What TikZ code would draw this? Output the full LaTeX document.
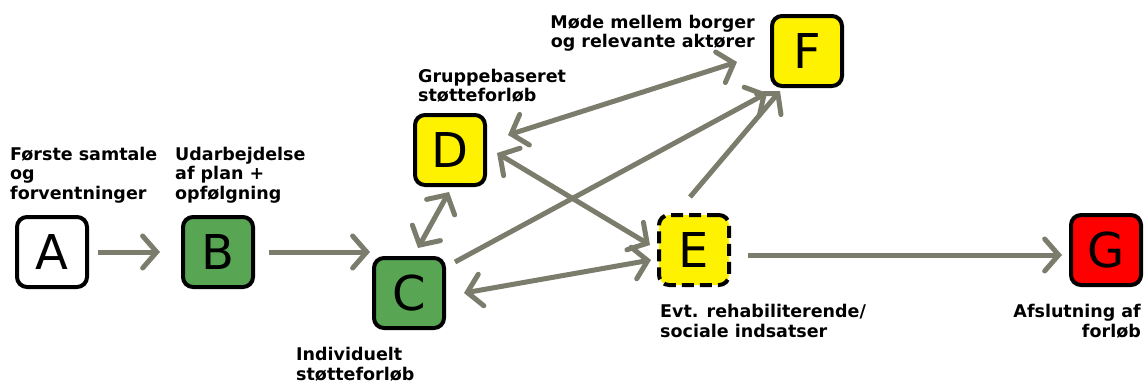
\documentclass[tikz,border=0pt]{standalone}
\usepackage{fontspec}
\setmainfont{DejaVu Sans}
\usetikzlibrary{arrows.meta}
\definecolor{flowgray}{RGB}{124,124,108}
\definecolor{stepgreen}{RGB}{88,166,84}
\tikzset{
  stage/.style={draw=black, line width=4pt, rounded corners=10pt, minimum width=70pt, minimum height=70pt,
    inner sep=0pt, font=\fontsize{48}{48}\selectfont},
  lbl/.style={font=\bfseries\fontsize{17.5}{19.5}\selectfont, inner sep=0pt, align=left},
  flow/.style={draw=flowgray, line width=5pt, -{Straight Barb[length=14pt,width=32pt,line cap=round]}},
  biflow/.style={draw=flowgray, line width=5pt, {Straight Barb[length=14pt,width=32pt,line cap=round]}-{Straight Barb[length=14pt,width=32pt,line cap=round]}},
}
\begin{document}
\begin{tikzpicture}[x=1pt,y=-1pt]
\useasboundingbox (0,0) rectangle (1148,383);
% stages
\node[stage, fill=white]            (A) at (52,252)   {A};
\node[stage, fill=stepgreen]        (B) at (218,252)  {B};
\node[stage, fill=stepgreen]        (C) at (409,293)  {C};
\node[stage, fill=yellow]           (D) at (450,150)  {D};
\node[stage, fill=yellow, dash pattern=on 12pt off 6pt] (E) at (694,250) {E};
\node[stage, fill=yellow]           (F) at (807,51)   {F};
\node[stage, fill=red]              (G) at (1106,250) {G};
% captions
\node[lbl, anchor=north west] (la) at (10,147) {Første samtale\\og\\forventninger};
\node[lbl, anchor=north west] (lb) at (175,147) {Udarbejdelse\\af plan +\\opfølgning};
\node[lbl, anchor=north west] (ld) at (418,69) {Gruppebaseret\\støtteforløb};
\node[lbl, anchor=north east, align=right] (lf) at (755,15) {Møde mellem borger\\og relevante aktører};
\node[lbl, anchor=north west] (le) at (660,304) {Evt. rehabiliterende/\\sociale indsatser};
\node[lbl, anchor=north west] (lc) at (296,347) {Individuelt\\støtteforløb};
\node[lbl, anchor=north east, align=right] (lg) at (1141,304) {Afslutning af\\forløb};
% connectors
\coordinate (bc) at (370,252);
\draw[flow] ([xshift=9pt]A.east) -- ([xshift=-21pt]B.west);
\draw[flow] ([xshift=14pt]B.east) -- (bc);
\draw[biflow] ([xshift=9pt,yshift=8pt]C.north) -- ([xshift=-1pt,yshift=-5pt]D.south);
\draw[flow] ([xshift=9pt,yshift=-6pt]C.north east) -- ([xshift=-3pt,yshift=-5pt]F.south west);
\draw[biflow] ([xshift=21pt,yshift=15pt]D.east) -- ([xshift=-33pt,yshift=-11pt]F.west);
\draw[biflow] ([xshift=10pt,yshift=-3pt]D.east) -- ([xshift=-7pt,yshift=5pt]E.west);
\draw[biflow] ([xshift=18pt,yshift=0pt]C.east) -- ([xshift=-6pt,yshift=-10pt]E.west);
\draw[flow] ([xshift=-4pt,yshift=16pt]E.north) -- ([xshift=-27pt,yshift=-3pt]F.south);
\draw[flow] ([xshift=17pt,yshift=-5pt]E.east) -- ([xshift=-7pt,yshift=-5pt]G.west);
\end{tikzpicture}
\end{document}
